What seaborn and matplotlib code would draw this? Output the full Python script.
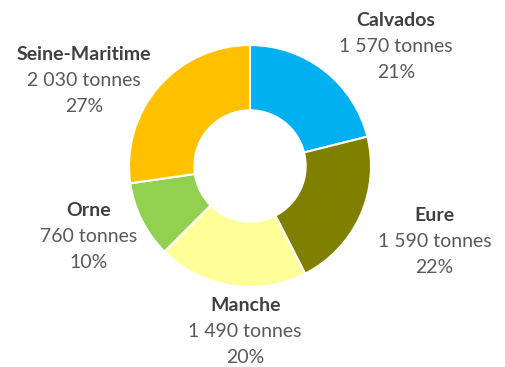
"""
Donut chart of tonnage by département (Normandie).
"""
import numpy as np
import matplotlib
matplotlib.use("Agg")
import matplotlib.pyplot as plt
import seaborn as sns

# Data
departements = ["Calvados", "Eure", "Manche", "Orne", "Seine-Maritime"]
tonnes = [1570, 1590, 1490, 760, 2030]
pourcentages = [21, 22, 20, 10, 27]
couleurs = ["#00B0F0", "#808000", "#FFFF99", "#92D050", "#FFC000"]

# label anchors (middle line), in pie radius units
label_pos = [(1.207, 0.99), (1.525, -0.625), (-0.04, -1.37),
             (-1.335, -0.585), (-1.37, 0.71)]


def fmt_tonnes(v):
    return f"{v:,}".replace(",", " ") + " tonnes"


def main():
    sns.set_style("white")
    plt.rcParams["font.family"] = ["Lato", "DejaVu Sans"]

    fig = plt.figure(figsize=(5.05, 3.67), dpi=100)
    # square axes: radius 121 px, centre at (250, 166) px from top-left
    ax = fig.add_axes([129 / 505, 80 / 367, 242 / 505, 242 / 367])

    ax.pie(
        tonnes,
        colors=couleurs,
        startangle=90,
        counterclock=False,
        radius=1,
        wedgeprops=dict(width=0.54, edgecolor="white", linewidth=1.5),
    )
    ax.set_xlim(-1, 1)
    ax.set_ylim(-1, 1)
    ax.axis("off")

    step = 0.215
    for name, t, p, (x, y) in zip(departements, tonnes, pourcentages, label_pos):
        ax.text(x, y + step, name, ha="center", va="center", fontsize=14,
                fontweight="bold", color="#404040", clip_on=False)
        ax.text(x, y, fmt_tonnes(t), ha="center", va="center", fontsize=14,
                color="#595959", clip_on=False)
        ax.text(x, y - step, f"{p}%", ha="center", va="center", fontsize=14,
                color="#595959", clip_on=False)

    fig.savefig("out.png", dpi=100)
    plt.close(fig)


if __name__ == "__main__":
    main()
